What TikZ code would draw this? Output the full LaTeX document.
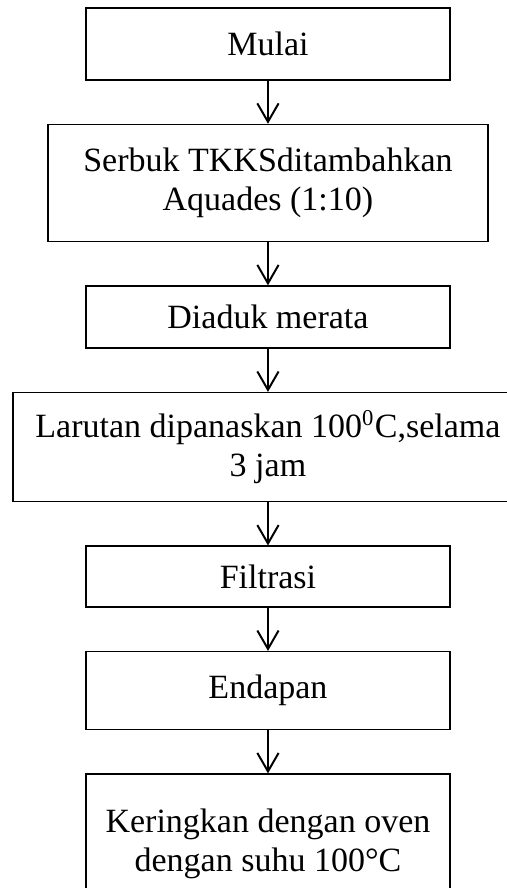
\documentclass[tikz,border=0pt]{standalone}
\usepackage{fontspec}
\setmainfont{Liberation Serif}
\usetikzlibrary{arrows.meta,positioning}

\begin{document}
\begin{tikzpicture}[node distance=15.2pt,
        box/.style={rectangle,draw=black,line width=0.5pt,minimum width=128.4pt,
          align=center,font=\fontsize{12}{13.8}\selectfont},
        arrow/.style={-{Straight Barb[length=6.5pt,width=7.5pt]},line width=0.7pt}]
        \useasboundingbox (-94.55pt,15.52pt) rectangle (84.3pt,-297.8pt);
        \node[box,minimum height=25.4pt] (mulai) at (0,0) {Mulai};
        \node[box,below=of mulai,minimum width=155.2pt,minimum height=41.3pt] (serbuk) {Serbuk TKKSditambahkan\\Aquades (1:10)};
        \node[box,below=of serbuk,minimum height=21.9pt] (aduk) {Diaduk merata};
        \node[box,below=of aduk,minimum width=179.9pt,minimum height=38.5pt] (panas) {Larutan dipanaskan 100\textsuperscript{0}C,selama\\3 jam};
        \node[box,below=of panas,minimum height=21.5pt] (filtrasi) {Filtrasi};
        \node[box,below=of filtrasi,minimum height=27.5pt] (endapan) {Endapan};
        \node[box,below=of endapan,minimum height=49.4pt] (kering) {Keringkan dengan oven\\dengan suhu 100°C};
        \draw[arrow] (mulai) -- (serbuk);
        \draw[arrow] (serbuk) -- (aduk);
        \draw[arrow] (aduk) -- (panas);
        \draw[arrow] (panas) -- (filtrasi);
        \draw[arrow] (filtrasi) -- (endapan);
        \draw[arrow] (endapan) -- (kering);
      \end{tikzpicture}
\end{document}
